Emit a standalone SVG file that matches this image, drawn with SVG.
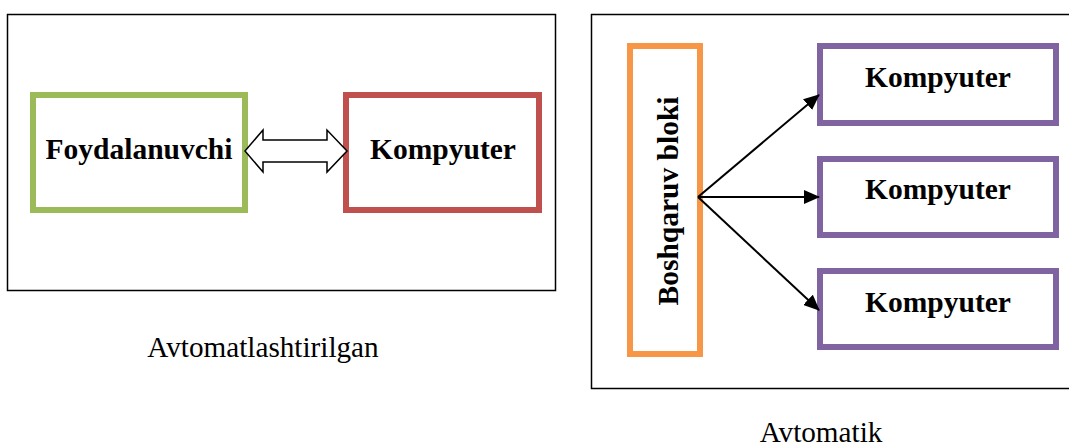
<svg xmlns="http://www.w3.org/2000/svg" width="1069" height="446" viewBox="0 0 1069 446">
<style>
.frame{fill:none;stroke:#000;stroke-width:1.5}
.box{fill:#fff;stroke-width:6}
.lbl{font-family:"Liberation Serif","Times New Roman",serif;font-weight:bold;font-size:29.5px;fill:#000;text-anchor:middle}
.cap{font-family:"Liberation Serif","Times New Roman",serif;font-size:29.2px;fill:#000;text-anchor:middle}
.conn{stroke:#000;stroke-width:2;fill:none}
</style>
<defs>
<marker id="ah" markerWidth="16" markerHeight="14" refX="15" refY="7" orient="auto" markerUnits="userSpaceOnUse">
<path d="M0,0 L16,7 L0,14 z" fill="#000"/>
</marker>
</defs>
<rect width="1069" height="446" fill="#fff"/>
<g id="frame-left"><rect class="frame" x="7.5" y="14.5" width="548" height="276"/></g>
<g id="frame-right"><rect class="frame" x="591.5" y="14.5" width="490" height="374"/></g>
<g id="foydalanuvchi">
<rect class="box" x="33" y="95" width="212" height="115" stroke="#9bbb59"/>
<text class="lbl" x="139" y="159">Foydalanuvchi</text>
</g>
<g id="kompyuter-left">
<rect class="box" x="346" y="95" width="193" height="115" stroke="#c0504d"/>
<text class="lbl" x="443" y="159">Kompyuter</text>
</g>
<g id="boshqaruv">
<rect class="box" x="630" y="46" width="70" height="308" stroke="#f79646"/>
<text class="lbl" transform="translate(678,201) rotate(-90)" x="0" y="0">Boshqaruv bloki</text>
</g>
<g id="kompyuter-1">
<rect class="box" x="820" y="46" width="236" height="77" stroke="#8064a2"/>
<text class="lbl" x="938" y="87">Kompyuter</text>
</g>
<g id="kompyuter-2">
<rect class="box" x="820" y="159" width="236" height="76" stroke="#8064a2"/>
<text class="lbl" x="938" y="199">Kompyuter</text>
</g>
<g id="kompyuter-3">
<rect class="box" x="820" y="271" width="236" height="76" stroke="#8064a2"/>
<text class="lbl" x="938" y="312">Kompyuter</text>
</g>
<g id="connectors">
<path d="M245,151 L263,130 L263,140 L327,140 L327,130 L347,151 L327,172 L327,162 L263,162 L263,172 Z" fill="#fff" stroke="#000" stroke-width="1.5" stroke-linejoin="miter"/>
<line class="conn" x1="698" y1="197" x2="819" y2="95" marker-end="url(#ah)"/>
<line class="conn" x1="698" y1="197" x2="819" y2="197" marker-end="url(#ah)"/>
<line class="conn" x1="698" y1="197" x2="819" y2="310" marker-end="url(#ah)"/>
</g>
<g id="captions">
<text class="cap" x="263" y="357">Avtomatlashtirilgan</text>
<text class="cap" x="821" y="442">Avtomatik</text>
</g>
</svg>
